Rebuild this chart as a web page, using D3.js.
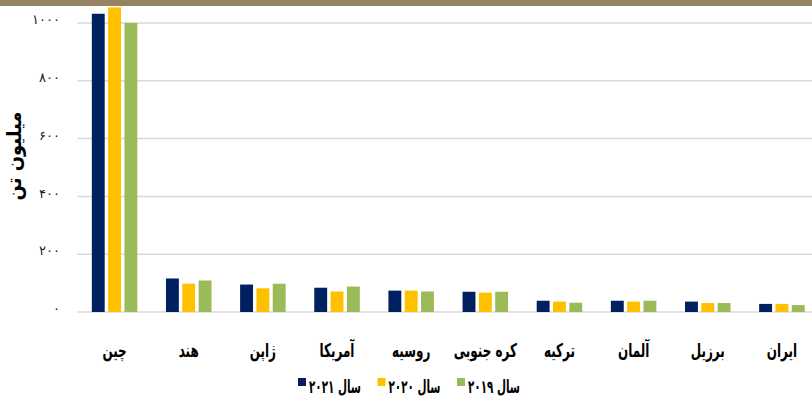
<!DOCTYPE html>
<html>
<head>
<meta charset="utf-8">
<script src="https://cdn.jsdelivr.net/npm/d3@7"></script>
<style>
  html, body { margin: 0; padding: 0; background: #ffffff; }
  #chart-container svg { display: block; }
</style>
</head>
<body>
<div id="chart-container"></div>
<script>
// countries, left to right
const categories = ['چین', 'هند', 'ژاپن', 'آمریکا', 'روسیه', 'کره جنوبی', 'ترکیه', 'آلمان', 'برزیل', 'ایران'];
const seriesNames = ['سال ۲۰۲۱', 'سال ۲۰۲۰', 'سال ۲۰۱۹'];
const values2021 = [1032, 116, 95, 84, 74, 70, 39, 39, 36, 28];
const values2020 = [1054, 98, 82, 71, 74, 67, 36, 36, 31, 28];
const values2019 = [1000, 109, 98, 88, 71, 70, 32, 39, 31, 24];
const yTicks = [0, 200, 400, 600, 800, 1000];
const yTickLabels = ['۰', '۲۰۰', '۴۰۰', '۶۰۰', '۸۰۰', '۱۰۰۰'];
const yTitle = 'میلیون تن';

const colors = ['#002060', '#ffc000', '#9bbb59'];
const width = 812;
const height = 401;
const font = '"DejaVu Sans", sans-serif';

const svg = d3.select('#chart-container')
  .append('svg')
  .attr('width', width)
  .attr('height', height);

// brown band at the top
svg.append('rect')
  .attr('x', 0).attr('y', 0)
  .attr('width', width).attr('height', 6)
  .attr('fill', '#958463');

const x0 = d3.scaleBand()
  .domain(categories)
  .range([77.5, 819])
  .paddingInner(0.386)
  .paddingOuter(0.193);

const x1 = d3.scaleBand()
  .domain(seriesNames)
  .range([0, x0.bandwidth()])
  .paddingInner(0.21)
  .paddingOuter(0);

const y = d3.scaleLinear()
  .domain([0, 1000])
  .range([312, 23]);

// gridlines
svg.append('g')
  .selectAll('line')
  .data(yTicks)
  .enter()
  .append('line')
  .attr('x1', 77.5)
  .attr('x2', width)
  .attr('y1', (d) => y(d))
  .attr('y2', (d) => y(d))
  .style('stroke', '#d9d9d9')
  .style('stroke-width', 1.5);

// y axis labels
const yAxis = d3.axisLeft(y)
  .tickValues(yTicks)
  .tickSize(0)
  .tickPadding(0)
  .tickFormat((d, i) => yTickLabels[i]);

svg.append('g')
  .attr('transform', 'translate(60,0)')
  .call(yAxis)
  .call((g) => g.select('.domain').remove())
  .selectAll('text')
  .attr('dy', '0.05em')
  .style('font-family', font)
  .style('font-size', '13px')
  .style('fill', '#1a1a1a');

svg.append('text')
  .attr('transform', 'translate(21,156) rotate(-90) scale(0.9,1)')
  .attr('text-anchor', 'middle')
  .style('font-family', font)
  .style('font-weight', 'bold')
  .style('font-size', '20px')
  .style('fill', '#000')
  .text(yTitle);

// bars
const rows = categories.map((c, i) => ({
  category: c,
  values: [values2021[i], values2020[i], values2019[i]],
}));

const groups = svg.append('g')
  .selectAll('g')
  .data(rows)
  .enter()
  .append('g')
  .attr('transform', (d) => `translate(${x0(d.category)},0)`);

groups.selectAll('rect')
  .data((d) => d.values.map((v, i) => ({ key: seriesNames[i], value: v, i: i })))
  .enter()
  .append('rect')
  .attr('x', (d) => x1(d.key))
  .attr('width', x1.bandwidth())
  .attr('y', (d) => y(d.value))
  .attr('height', (d) => y(0) - y(d.value))
  .style('fill', (d) => colors[d.i]);

// category labels (squeezed to look like the condensed original face)
svg.append('g')
  .selectAll('text')
  .data(categories)
  .enter()
  .append('text')
  .attr('transform', (d) => `translate(${x0(d) + x0.bandwidth() / 2},357) scale(0.63,1)`)
  .attr('text-anchor', 'middle')
  .style('font-family', font)
  .style('font-weight', 'bold')
  .style('font-size', '19px')
  .style('fill', '#000')
  .text((d) => d);

// legend
const legend = svg.append('g')
  .selectAll('g')
  .data(seriesNames)
  .enter()
  .append('g')
  .attr('transform', (d, i) => `translate(${298 + i * 79.5},378)`);

legend.append('rect')
  .attr('width', 8)
  .attr('height', 8)
  .style('fill', (d, i) => colors[i]);

legend.append('text')
  .attr('text-anchor', 'middle')
  .style('font-family', font)
  .style('font-weight', 'bold')
  .style('font-size', '18px')
  .style('fill', '#000')
  .text((d) => d)
  .attr('transform', function () {
    const w = this.getComputedTextLength();
    return `translate(37,15) scale(${52 / w},1)`;
  });
</script>
</body>
</html>
